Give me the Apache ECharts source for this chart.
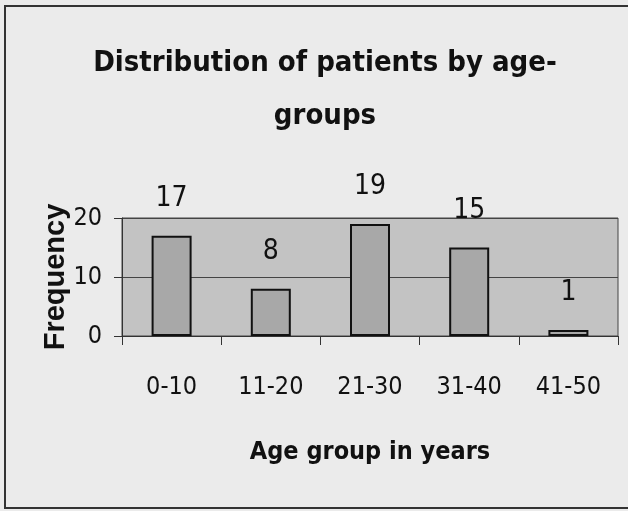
<!DOCTYPE html>
<html>
<head>
<meta charset="utf-8">
<title>Distribution of patients by age-groups</title>
<script src="https://cdn.jsdelivr.net/npm/echarts@6/dist/echarts.min.js"></script>
<style>
  html, body { margin: 0; padding: 0; background: #ebebeb; }
  #chart { width: 628px; height: 511px; }
</style>
</head>
<body>
<div id="chart"></div>
<script>
// 年龄组
const ageGroups = ['0-10', '11-20', '21-30', '31-40', '41-50']
// 人数
const frequency = [17, 8, 19, 15, 1]
// Y轴刻度
const yTicks = [0, 10, 20]

const narrow = '"Liberation Sans Narrow", "Arial Narrow", "DejaVu Sans Condensed", sans-serif'

const chart = echarts.init(document.getElementById('chart'))
chart.setOption({
  backgroundColor: '#ebebeb',
  animation: false,
  title: {
    text: 'Distribution of patients by age-\ngroups',
    left: 320,
    top: 32,
    textAlign: 'center',
    textStyle: {
      fontFamily: narrow,
      fontWeight: 'bold',
      fontSize: 29,
      lineHeight: 53,
      color: '#111',
    },
  },
  // 外框
  graphic: [
    {
      type: 'rect',
      shape: { x: 5, y: 6, width: 660, height: 502 },
      style: { fill: 'none', stroke: '#333', lineWidth: 2 },
      silent: true,
    },
  ],
  grid: {
    left: 122,
    right: 10,
    top: 218,
    bottom: 175,
    show: true,
    backgroundColor: '#c3c3c3',
    borderColor: '#444',
    borderWidth: 1,
  },
  xAxis: {
    type: 'category',
    data: ageGroups,
    name: 'Age group in years',
    nameLocation: 'middle',
    nameGap: 104,
    nameMoveOverlap: false,
    nameTextStyle: {
      fontFamily: narrow,
      fontWeight: 'bold',
      fontSize: 25,
      color: '#111',
    },
    axisLine: { lineStyle: { color: '#333', width: 1 } },
    axisTick: { show: true, length: 9, lineStyle: { color: '#333' } },
    axisLabel: {
      margin: 39,
      fontFamily: narrow,
      fontSize: 25,
      color: '#111',
    },
  },
  yAxis: {
    type: 'value',
    min: yTicks[0],
    max: yTicks[yTicks.length - 1],
    interval: yTicks[1] - yTicks[0],
    name: 'Frequency',
    nameLocation: 'middle',
    nameGap: 52,
    nameMoveOverlap: false,
    nameRotate: 90,
    nameTextStyle: {
      fontFamily: '"Liberation Sans", Arial, sans-serif',
      fontWeight: 'bold',
      fontSize: 29,
      color: '#111',
    },
    axisLine: { show: true, lineStyle: { color: '#333' } },
    axisTick: { show: true, length: 8, lineStyle: { color: '#333' } },
    axisLabel: {
      margin: 20,
      fontFamily: narrow,
      fontSize: 25,
      color: '#111',
    },
    splitLine: { show: true, lineStyle: { color: '#444', width: 1 } },
  },
  series: [
    {
      name: 'Frequency',
      type: 'bar',
      data: frequency,
      barWidth: 40,
      itemStyle: {
        color: '#a8a8a8',
        borderColor: '#111',
        borderWidth: 2,
      },
      // 数值标签
      label: {
        show: true,
        position: 'top',
        distance: 22,
        fontFamily: narrow,
        fontSize: 28,
        lineHeight: 30,
        color: '#111',
      },
    },
  ],
})
</script>
</body>
</html>
